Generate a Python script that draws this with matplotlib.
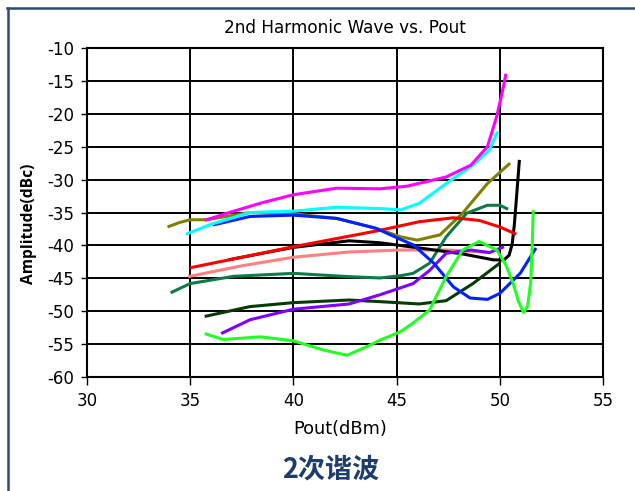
import matplotlib
matplotlib.use("Agg")
import matplotlib.pyplot as plt
from matplotlib.lines import Line2D

plt.rcParams['font.family'] = ['DejaVu Sans']
plt.rcParams['axes.unicode_minus'] = False

# Pout (dBm) / 2nd harmonic amplitude (dBc) for each device curve
magenta_x = [35.7, 37.0, 38.5, 40.0, 42.1, 44.2, 45.5, 47.4, 48.6, 49.4, 49.85, 50.1, 50.3]
magenta_y = [-36.2, -34.9, -33.5, -32.3, -31.3, -31.4, -31.0, -29.6, -27.8, -25.0, -20.4, -17.0, -13.9]

cyan_x = [34.8, 36.0, 37.9, 40.0, 42.1, 44.2, 45.2, 46.1, 47.4, 48.7, 49.5, 49.9]
cyan_y = [-38.3, -36.8, -35.0, -34.8, -34.2, -34.4, -34.6, -33.6, -30.6, -27.8, -25.5, -22.7]

olive_x = [33.9, 34.5, 35.0, 35.8, 37.9, 40.0, 42.1, 44.0, 45.2, 46.0, 47.1, 48.2, 49.4, 50.5]
olive_y = [-37.2, -36.5, -36.1, -36.1, -35.0, -35.2, -35.9, -37.4, -38.7, -39.2, -38.4, -35.1, -30.6, -27.5]

blue_x = [36.1, 37.9, 40.0, 42.1, 44.0, 45.2, 45.8, 46.8, 47.75, 48.56, 49.4, 50.0, 51.0, 51.75]
blue_y = [-36.9, -35.6, -35.4, -35.9, -37.4, -39.1, -39.9, -42.7, -46.3, -48.0, -48.2, -47.3, -44.2, -40.4]

red_x = [35.0, 37.5, 40.0, 42.7, 44.2, 46.1, 47.75, 49.0, 50.0, 50.8]
red_y = [-43.4, -41.8, -40.2, -38.6, -37.7, -36.4, -35.8, -36.2, -37.2, -38.3]

black_x = [36.85, 38.5, 40.0, 42.7, 44.2, 46.6, 48.2, 49.7, 50.2, 50.45, 50.6, 50.7, 50.8, 50.95]
black_y = [-42.2, -41.2, -40.3, -39.3, -39.6, -40.6, -41.3, -42.2, -42.2, -41.5, -39.8, -37.0, -33.1, -27.0]

salmon_x = [34.9, 37.5, 40.0, 42.7, 45.2, 47.4, 49.5]
salmon_y = [-44.75, -43.1, -41.8, -41.0, -40.7, -40.7, -41.05]

teal_x = [34.05, 35.0, 37.1, 40.0, 42.7, 44.2, 45.2, 45.8, 46.6, 47.4, 48.4, 49.4, 50.0, 50.4]
teal_y = [-47.2, -45.8, -44.7, -44.25, -44.75, -44.95, -44.6, -44.25, -42.7, -38.7, -35.1, -33.9, -33.9, -34.5]

dkgreen_x = [35.7, 37.9, 40.0, 42.7, 44.2, 46.1, 47.4, 48.7, 50.0]
dkgreen_y = [-50.8, -49.3, -48.7, -48.3, -48.55, -48.9, -48.4, -45.8, -42.7]

purple_x = [36.5, 37.9, 40.0, 42.7, 44.2, 45.8, 46.6, 47.4, 48.6, 49.5, 50.2]
purple_y = [-53.4, -51.3, -49.7, -48.9, -47.5, -45.8, -43.8, -41.2, -40.7, -41.1, -40.2]

lime_x = [35.7, 36.6, 38.4, 40.0, 41.45, 42.6, 43.55, 44.2, 45.2, 45.8, 46.6, 47.4, 48.2,
          49.0, 49.85, 50.3, 50.65, 50.9, 51.15, 51.35, 51.5, 51.57, 51.62]
lime_y = [-53.4, -54.3, -53.9, -54.5, -55.9, -56.7, -55.4, -54.4, -53.1, -51.8, -49.8, -44.75,
          -40.7, -39.4, -40.7, -43.0, -45.8, -48.5, -50.2, -49.2, -45.5, -40.0, -34.6]

series = [
    (olive_x, olive_y, '#808000'),
    (salmon_x, salmon_y, '#ff8080'),
    (teal_x, teal_y, '#0e7a4a'),
    (dkgreen_x, dkgreen_y, '#063a06'),
    (black_x, black_y, '#000000'),
    (red_x, red_y, '#ff0000'),
    (purple_x, purple_y, '#8000ff'),
    (blue_x, blue_y, '#0022ff'),
    (cyan_x, cyan_y, '#00ffff'),
    (magenta_x, magenta_y, '#ff00ff'),
    (lime_x, lime_y, '#22ff22'),
]

fig = plt.figure(figsize=(6.35, 4.91), dpi=100)
ax = fig.add_axes([0.137, 0.2322, 0.8126, 0.67])

for xs, ys, c in series:
    ax.plot(xs, ys, color=c, lw=2.2, solid_capstyle='butt', solid_joinstyle='round')

ax.set_xlim(30, 55)
ax.set_ylim(-60, -10)
ax.set_xticks(range(30, 56, 5))
ax.set_yticks(range(-60, -9, 5))
ax.grid(True, color='black', lw=1.4)
ax.set_axisbelow(True)
for sp in ax.spines.values():
    sp.set_linewidth(1.5)
ax.tick_params(direction='out', width=1, labelsize=12)
ax.tick_params(axis='y', length=4.5, pad=5)
ax.tick_params(axis='x', length=6, pad=5)

fig.text(0.543, 0.933, '2nd Harmonic Wave vs. Pout', fontsize=12.2,
         ha='center', va='baseline')
fig.text(0.536, 1 - 433.5 / 491, 'Pout(dBm)', fontsize=12.8, ha='center', va='baseline')
fig.text(0.046, 1 - 224 / 491, 'Amplitude(dBc)', fontsize=11.2, fontweight='bold',
         rotation=90, ha='center', va='center', family=['Open Sans', 'DejaVu Sans'])

fig.text(0.521, 0.043, '2次谐波', fontsize=19.5, fontweight='bold', color='#1e3d6b',
         ha='center', va='center', family=['Noto Sans CJK SC', 'DejaVu Sans'])

# outer frame on top and left edges
frame = '#2b4a78'
fig.add_artist(Line2D([0.011, 1.0], [0.983, 0.983], color=frame, lw=1.8, transform=fig.transFigure))
fig.add_artist(Line2D([0.012, 0.012], [0.0, 0.984], color=frame, lw=1.8, transform=fig.transFigure))

fig.savefig('out.png', dpi=100)
